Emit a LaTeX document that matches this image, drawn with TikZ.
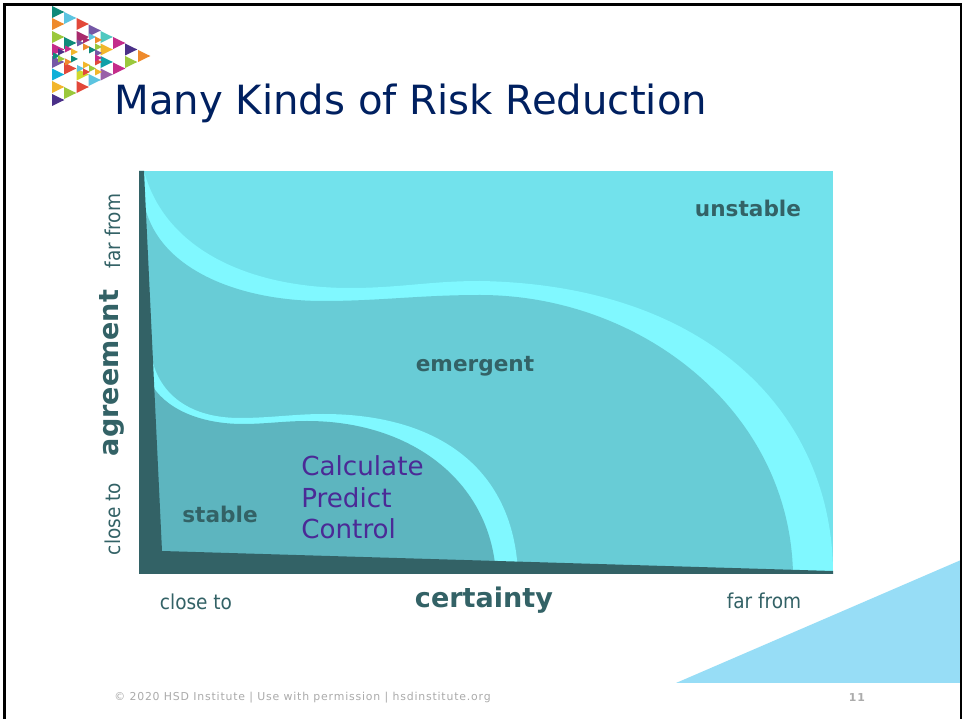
\documentclass[tikz,border=0pt]{standalone}
\usepackage{fontspec}
\setmainfont{DejaVu Sans}
\newfontfamily\plotfont{DejaVu Sans Condensed}
\definecolor{plotdark}{HTML}{336266}
\definecolor{unstablefill}{HTML}{72E2EC}
\definecolor{emergentfill}{HTML}{68CCD6}
\definecolor{stablefill}{HTML}{5DB5BF}
\definecolor{bandfill}{HTML}{80F8FF}
\definecolor{titleblue}{HTML}{002060}
\definecolor{listpurple}{HTML}{4B2A96}
\definecolor{wedgeblue}{HTML}{97DDF6}
\definecolor{footgray}{HTML}{ABABAB}
\definecolor{lteal}{HTML}{0F8A7A}
\definecolor{lorange}{HTML}{EE8A2C}
\definecolor{lgreen}{HTML}{9BC83C}
\definecolor{lmagenta}{HTML}{C42C8A}
\definecolor{lviolet}{HTML}{7558A6}
\definecolor{lcyan}{HTML}{10B0D8}
\definecolor{lyellow}{HTML}{F2B62C}
\definecolor{lnavy}{HTML}{4A3088}
\definecolor{lsky}{HTML}{5CC4E0}
\definecolor{lred}{HTML}{E2483A}
\definecolor{lcrimson}{HTML}{A82A6C}
\definecolor{llime}{HTML}{D0D82C}
\definecolor{laqua}{HTML}{50C8C0}
\definecolor{ltealb}{HTML}{10A0A8}
\definecolor{lmauve}{HTML}{9A60A8}
\tikzset{
    plotlabel/.style={color=plotdark,font=\plotfont\fontsize{11.7}{11.7}\selectfont},
    zonelabel/.style={color=plotdark,font=\fontsize{12.3}{12.3}\selectfont\bfseries},
    axislabel/.style={color=plotdark,font=\fontsize{15.4}{15.4}\selectfont\bfseries}
}
\begin{document}
\begin{tikzpicture}[x=0.02cm,y=-0.02cm]
    \useasboundingbox (0,0) rectangle (965,719);
    \fill[color=white] (0,0) rectangle (965,719);
    % logo, large triangles then small ones
    \foreach \tx/\ty/\tc in {52/12/lteal,52/24/lorange,52/37/lgreen,52/49.5/lmagenta,52/62/lviolet,52/74.5/lcyan,52/87/lyellow,52/100/lnavy,
        64/18/lsky,64/43/lteal,64/68.5/lred,64/93/lgreen,76.5/24/lred,76.5/37/lcrimson,76.5/74.5/llime,76.5/87/lred,
        88.5/30.5/lviolet,88.5/80/lsky,100.5/37/laqua,100.5/49.5/lyellow,100.5/62/ltealb,100.5/74.5/lmauve,
        113/43/lmagenta,113/68.5/lmagenta,125/49.5/lnavy,125/62/lgreen,138/56/lorange}
        \fill[color=\tc] (\tx,\ty-6) -- (\tx+12.3,\ty) -- (\tx,\ty+6) -- cycle;
    \foreach \tx/\ty/\tc in {58/52/lnavy,65/49/lmagenta,71/52/lyellow,53/56/lteal,58/59/lgreen,65/62/lorange,71/59/lteal,
        77/43/lviolet,83/40/lcrimson,83/47/lorange,89/37/lsky,95/40/lorange,89/50/lteal,95/47/lgreen,95/53/lviolet,
        95/62/lred,77/68.5/lsky,83/65/lyellow,83/72/lred,89/68.5/lgreen,95/72/lyellow,95/58/lmagenta}
        \fill[color=\tc] (\tx,\ty-3.5) -- (\tx+7,\ty) -- (\tx,\ty+3.5) -- cycle;
    \node[color=titleblue,font=\fontsize{22.9}{22.9}\selectfont,anchor=base west,inner sep=0pt] (title) at (114,115) {Many Kinds of Risk Reduction};
    % plot regions, back to front
    \fill[color=unstablefill] (139,171) rectangle (833,574);
    \fill[color=bandfill] (144,171) .. controls (165,250) and (250,288) .. (350,288) .. controls (400,288) and (430,281) .. (480,281)
        .. controls (710,285) and (833,415) .. (833,574) -- (139,574) -- (139,171) -- cycle;
    \fill[color=emergentfill] (145,207) .. controls (160,270) and (240,301) .. (323,301) .. controls (380,301) and (420,295) .. (480,295)
        .. controls (640,295) and (790,410) .. (793,574) -- (139,574) -- (139,207) -- cycle;
    \fill[color=bandfill] (153,363) .. controls (162,395) and (190,418) .. (240,418) .. controls (270,418) and (295,414) .. (323,414)
        .. controls (440,414) and (514,470) .. (518,574) -- (139,574) -- (139,363) -- cycle;
    \fill[color=stablefill] (153,387) .. controls (170,412) and (205,424) .. (243,424) .. controls (265,424) and (285,421) .. (307,421)
        .. controls (410,421) and (490,480) .. (496,574) -- (139,574) -- (139,387) -- cycle;
    \fill[color=plotdark] (139,171) -- (144,171) -- (162,551) -- (833,571) -- (833,574) -- (139,574) -- cycle;
    % labels
    \node[zonelabel] (unstable) at (748,208) {unstable};
    \node[zonelabel] (emergent) at (475,366) {emergent};
    \node[zonelabel] (stable) at (220,514) {stable};
    \node[color=listpurple,font=\fontsize{14.9}{18.1}\selectfont,align=left,anchor=north west,inner sep=0pt] (actions) at (301,455) {Calculate\\Predict\\Control};
    \node[axislabel,rotate=90] (agreement) at (112,373) {agreement};
    \node[plotlabel,rotate=90] (yfar) at (113,231) {far from};
    \node[plotlabel,rotate=90] (yclose) at (113,519) {close to};
    \node[axislabel] (certainty) at (484,600) {certainty};
    \node[plotlabel] (xclose) at (196,602) {close to};
    \node[plotlabel] (xfar) at (764,601) {far from};
    % footer
    \fill[color=wedgeblue] (676,683) -- (961,560) -- (961,683) -- cycle;
    \node[color=footgray,font=\addfontfeature{LetterSpace=7.5}\fontsize{6.2}{6.2}\selectfont,anchor=west,inner sep=0pt] (credit) at (114,698) {© 2020 HSD Institute | Use with permission | hsdinstitute.org};
    \node[color=footgray,font=\addfontfeature{LetterSpace=8}\fontsize{6.2}{6.2}\selectfont\bfseries,inner sep=0pt] (pagenum) at (857,698) {11};
    % slide frame
    \draw[color=black,line width=0.055cm] (4.5,719) -- (4.5,4.5) -- (961,4.5) -- (961,719);
\end{tikzpicture}
\end{document}
